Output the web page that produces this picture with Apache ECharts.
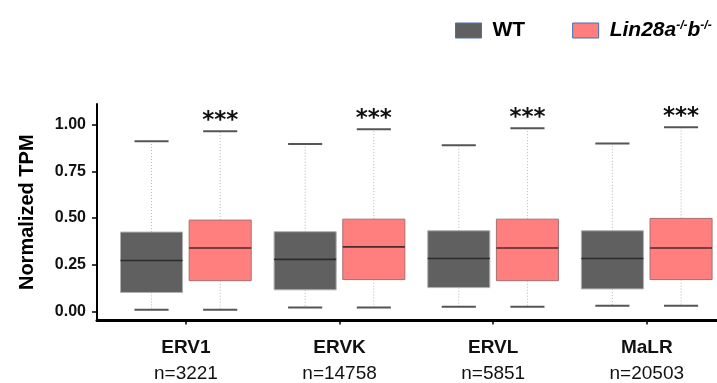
<!DOCTYPE html>
<html>
<head>
<meta charset="utf-8">
<script src="https://cdn.jsdelivr.net/npm/echarts@6/dist/echarts.min.js"></script>
<style>html,body{margin:0;padding:0;background:#fff;}#c{width:717px;height:383px;}</style>
</head>
<body>
<div id="c"></div>
<script>
// ---- data ----
const categories = ['ERV1', 'ERVK', 'ERVL', 'MaLR'];
const counts = ['n=3221', 'n=14758', 'n=5851', 'n=20503'];
// [min, Q1, median, Q3, max]
const wtStats = [
  [0.010, 0.102, 0.273, 0.425, 0.911],
  [0.022, 0.116, 0.279, 0.427, 0.896],
  [0.026, 0.128, 0.284, 0.432, 0.890],
  [0.031, 0.121, 0.284, 0.432, 0.899]
];
const linStats = [
  [0.010, 0.165, 0.340, 0.489, 0.964],
  [0.022, 0.171, 0.346, 0.494, 0.975],
  [0.026, 0.165, 0.340, 0.494, 0.980],
  [0.031, 0.171, 0.340, 0.498, 0.986]
];
const significance = ['***', '***', '***', '***'];
const yTicks = [0, 0.25, 0.5, 0.75, 1.0];
const seriesNames = ['WT', 'Lin28a-/-b-/-'];

const FONT = 'Liberation Sans, Arial, sans-serif';
const styles = [
  { fill: '#606060', stroke: '#b0b0b0', median: '#2b2b2b', offset: -0.224 },
  { fill: '#FF7F7F', stroke: '#a87070', median: '#4a2a2a', offset: 0.223 }
];

function makeRender(si) {
  return function (params, api) {
    const st = styles[si];
    const idx = api.value(0);
    const x = idx + st.offset;
    const cx = api.coord([x, 0])[0];
    const bw = api.size([0.404, 0])[0];
    const cw = api.size([0.222, 0])[0];
    const y = v => api.coord([x, v])[1];
    const mn = y(api.value(1)), q1 = y(api.value(2)), md = y(api.value(3)), q3 = y(api.value(4)), mx = y(api.value(5));
    const dot = { stroke: '#b5b5b5', lineWidth: 1, lineDash: [1, 2] };
    const capStyle = { stroke: '#555555', lineWidth: 2 };
    const children = [
      { type: 'line', shape: { x1: cx, y1: q3, x2: cx, y2: mx }, style: dot },
      { type: 'line', shape: { x1: cx, y1: q1, x2: cx, y2: mn }, style: dot },
      { type: 'line', shape: { x1: cx - cw / 2, y1: mx, x2: cx + cw / 2, y2: mx }, style: capStyle },
      { type: 'line', shape: { x1: cx - cw / 2, y1: mn, x2: cx + cw / 2, y2: mn }, style: capStyle },
      { type: 'rect', shape: { x: cx - bw / 2, y: q3, width: bw, height: q1 - q3 }, style: { fill: st.fill, stroke: st.stroke, lineWidth: 1 } },
      { type: 'line', shape: { x1: cx - bw / 2, y1: md, x2: cx + bw / 2, y2: md }, style: { stroke: st.median, lineWidth: 1.6 } }
    ];
    if (si === 1) {
      children.push({
        type: 'text',
        style: {
          text: significance[params.dataIndex], x: cx, y: mx - 10,
          align: 'center', verticalAlign: 'middle',
          font: 'bold 23px "DejaVu Sans", sans-serif', fill: '#111'
        }
      });
    }
    return { type: 'group', children };
  };
}

function toData(stats) {
  return stats.map((s, i) => [i, s[0], s[1], s[2], s[3], s[4]]);
}

const chart = echarts.init(document.getElementById('c'), null, { renderer: 'canvas' });
chart.setOption({
  animation: false,
  backgroundColor: '#ffffff',
  legend: {
    left: 450, top: 15,
    itemWidth: 26, itemHeight: 15, itemGap: 47,
    icon: 'rect',
    data: [
      { name: seriesNames[0], itemStyle: { color: '#606060', borderColor: '#4a6fb5', borderWidth: 1 } },
      { name: seriesNames[1], itemStyle: { color: '#FF7F7F', borderColor: '#4a6fb5', borderWidth: 1 } }
    ],
    formatter: function (name) {
      return name === seriesNames[0] ? '{w|WT}' : '{i|Lin28a}{s|-/-}{i|b}{s|-/-}';
    },
    textStyle: {
      padding: [0, 0, 0, 6],
      rich: {
        w: { fontFamily: FONT, fontWeight: 'bold', fontSize: 21, color: '#000' },
        i: { fontFamily: FONT, fontWeight: 'bold', fontStyle: 'italic', fontSize: 21, color: '#000' },
        s: { fontFamily: FONT, fontWeight: 'bold', fontStyle: 'italic', fontSize: 12, color: '#000', verticalAlign: 'top' }
      }
    }
  },
  grid: { left: 97, right: 0, top: 104, bottom: 60.5 },
  xAxis: {
    type: 'value',
    min: -0.579, max: 3.457,
    splitLine: { show: false },
    axisLine: { show: true, onZero: false, lineStyle: { color: '#000', width: 3 } },
    axisTick: { show: true, customValues: [0, 1, 2, 3], length: 4, lineStyle: { color: '#000', width: 1.5 } },
    axisLabel: {
      customValues: [0, 1, 2, 3],
      margin: 14,
      formatter: function (v) {
        const i = Math.round(v);
        return '{b|' + categories[i] + '}\n{n|' + counts[i] + '}';
      },
      rich: {
        b: { fontFamily: FONT, fontWeight: 'bold', fontSize: 19, color: '#111', lineHeight: 26 },
        n: { fontFamily: FONT, fontSize: 19, color: '#111', lineHeight: 26 }
      }
    }
  },
  yAxis: {
    type: 'value',
    min: -0.048, max: 1.11,
    name: 'Normalized TPM',
    nameLocation: 'middle',
    nameGap: 60,
    nameTextStyle: { fontFamily: FONT, fontWeight: 'bold', fontSize: 20, color: '#000' },
    splitLine: { show: false },
    axisLine: { show: true, onZero: false, lineStyle: { color: '#000', width: 2 } },
    axisTick: { show: true, customValues: yTicks, length: 5, lineStyle: { color: '#000', width: 1.5 } },
    axisLabel: {
      customValues: yTicks,
      margin: 11,
      fontFamily: FONT, fontWeight: 'bold', fontSize: 16, color: '#111',
      formatter: v => v.toFixed(2)
    }
  },
  series: [
    {
      name: seriesNames[0], type: 'custom',
      itemStyle: { color: '#606060' },
      encode: { x: 0, y: [1, 2, 3, 4, 5] },
      renderItem: makeRender(0),
      data: toData(wtStats)
    },
    {
      name: seriesNames[1], type: 'custom',
      itemStyle: { color: '#FF7F7F' },
      encode: { x: 0, y: [1, 2, 3, 4, 5] },
      renderItem: makeRender(1),
      data: toData(linStats)
    }
  ]
});
</script>
</body>
</html>
